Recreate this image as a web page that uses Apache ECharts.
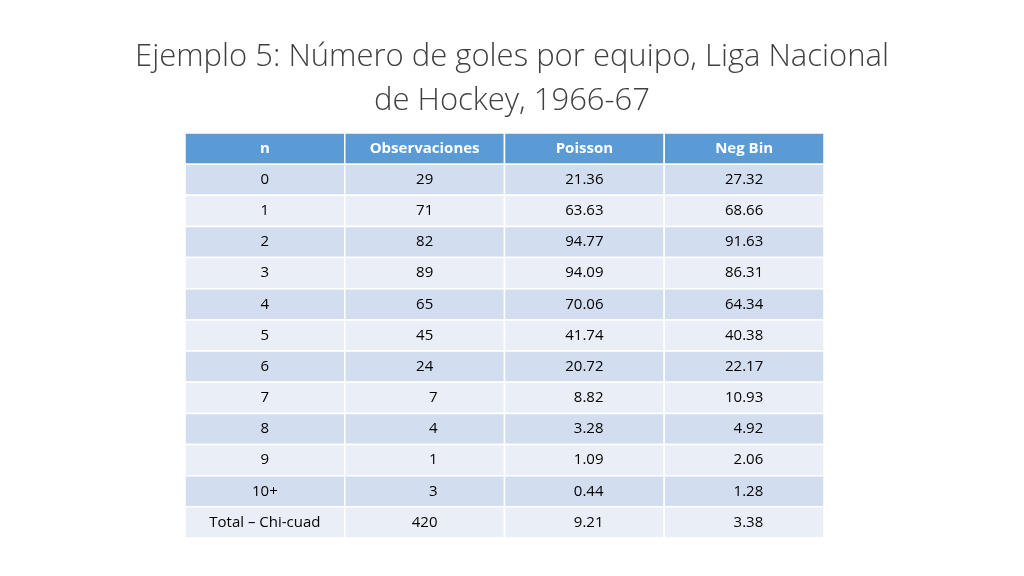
<!DOCTYPE html>
<html>
<head>
<meta charset="utf-8">
<script src="https://cdn.jsdelivr.net/npm/echarts@6/dist/echarts.min.js"></script>
<style>
  html, body { margin: 0; padding: 0; background: #fff; }
  #main { width: 1024px; height: 576px; }
</style>
</head>
<body>
<div id="main"></div>
<script>
// column headers and table values
var headers = ['n', 'Observaciones', 'Poisson', 'Neg Bin'];
var nLabels = ['0', '1', '2', '3', '4', '5', '6', '7', '8', '9', '10+', 'Total \u2013 Chi-cuad'];
var observaciones = [29, 71, 82, 89, 65, 45, 24, 7, 4, 1, 3, 420];
var poisson = [21.36, 63.63, 94.77, 94.09, 70.06, 41.74, 20.72, 8.82, 3.28, 1.09, 0.44, 9.21];
var negBin = [27.32, 68.66, 91.63, 86.31, 64.34, 40.38, 22.17, 10.93, 4.92, 2.06, 1.28, 3.38];

var FS = '\u2007';
// the slide pads small numbers with spaces, so they sit a bit right of centre
function fmtInt(v) { return (v < 10 ? FS + FS : '') + v; }
function fmtDec(v) { return (v < 10 ? FS : '') + v.toFixed(2); }

var rows = ['h'].concat(nLabels.map(function (d, i) { return 'r' + i; }));
var cells = [];
headers.forEach(function (h, c) { cells.push([c, 0, h]); });
nLabels.forEach(function (lab, i) {
    cells.push([0, i + 1, lab]);
    cells.push([1, i + 1, fmtInt(observaciones[i])]);
    cells.push([2, i + 1, fmtDec(poisson[i])]);
    cells.push([3, i + 1, fmtDec(negBin[i])]);
});

var chart = echarts.init(document.getElementById('main'));
chart.setOption({
    animation: false,
    title: {
        text: 'Ejemplo 5: Número de goles por equipo, Liga Nacional\nde Hockey, 1966-67',
        left: 'center',
        top: 30,
        textStyle: {
            fontFamily: 'Open Sans',
            fontWeight: 300,
            fontSize: 31,
            lineHeight: 44,
            color: '#404040'
        }
    },
    grid: { left: 185, right: 200, top: 133, bottom: 38 },
    xAxis: { type: 'category', data: headers, show: false },
    yAxis: { type: 'category', data: rows, inverse: true, show: false },
    series: [{
        type: 'custom',
        data: cells,
        encode: { x: 0, y: 1 },
        renderItem: function (params, api) {
            var p = api.coord([api.value(0), api.value(1)]);
            var s = api.size([1, 1]);
            var row = api.value(1);
            var fill = row === 0 ? '#5B9BD5' : (row % 2 === 1 ? '#D2DEEF' : '#EAEFF7');
            return {
                type: 'group',
                children: [{
                    type: 'rect',
                    shape: { x: p[0] - s[0] / 2, y: p[1] - s[1] / 2, width: s[0], height: s[1] },
                    style: { fill: fill, stroke: '#ffffff', lineWidth: 1.5 }
                }, {
                    type: 'text',
                    style: {
                        x: p[0], y: p[1],
                        text: cells[params.dataIndex][2],
                        align: 'center', verticalAlign: 'middle',
                        fontFamily: 'Open Sans',
                        fontSize: 15,
                        fontWeight: row === 0 ? 'bold' : 'normal',
                        fill: row === 0 ? '#ffffff' : '#000000'
                    }
                }]
            };
        }
    }]
});
</script>
</body>
</html>
